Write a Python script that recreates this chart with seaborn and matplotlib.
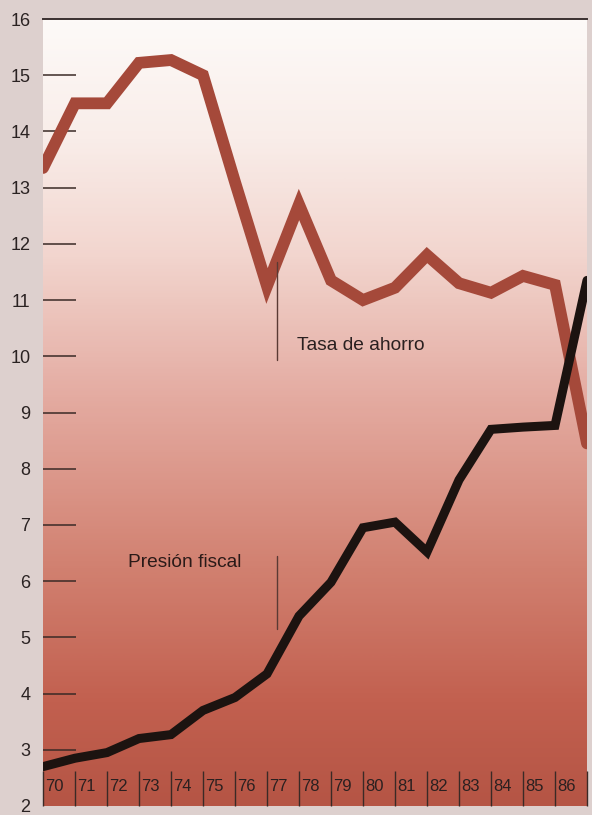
import numpy as np
import matplotlib
matplotlib.use("Agg")
import matplotlib.pyplot as plt
from matplotlib.colors import LinearSegmentedColormap
import seaborn as sns
import pandas as pd

# Series values, one per year (1970-1987)
years = list(range(70, 88))
tasa_ahorro = [13.35, 14.5, 14.5, 15.22, 15.27, 15.0, 13.1, 11.25, 12.7, 11.35,
               11.0, 11.22, 11.8, 11.3, 11.13, 11.43, 11.27, 8.45]
presion_fiscal = [2.7, 2.85, 2.95, 3.2, 3.27, 3.7, 3.93, 4.35, 5.38, 5.98,
                  6.95, 7.05, 6.52, 7.8, 8.7, 8.74, 8.77, 11.35]
year_labels = [str(y) for y in range(70, 87)]
y_ticks = list(range(2, 17))

sns.set_theme(style="white")
plt.rcParams["font.family"] = ["Liberation Sans", "DejaVu Sans"]

fig = plt.figure(figsize=(5.92, 8.15), dpi=100, facecolor="#ddd0ce")
ax = fig.add_axes([43 / 592, 9 / 815, 544 / 592, 787 / 815])
ax.set_xlim(70, 87)
ax.set_ylim(2, 16)

# vertical background gradient, light at the top to deep terracotta at the bottom
grad_cmap = LinearSegmentedColormap.from_list(
    "bg",
    [(0.0, "#fdfaf8"), (0.15, "#f9ede9"), (0.30, "#f2d5ce"), (0.48, "#e4aba1"),
     (0.69, "#d28272"), (0.87, "#c2604f"), (1.0, "#b55545")],
)
grad = np.linspace(0, 1, 400).reshape(-1, 1)
ax.imshow(grad, cmap=grad_cmap, aspect="auto", extent=(70, 87, 2, 16),
          origin="upper", zorder=0)
ax.set_xlim(70, 87)
ax.set_ylim(2, 16)

df = pd.DataFrame({"year": years, "tasa": tasa_ahorro, "presion": presion_fiscal})
sns.lineplot(data=df, x="year", y="tasa", ax=ax, color="#a5493a", linewidth=8.5,
             solid_joinstyle="miter", zorder=3)
sns.lineplot(data=df, x="year", y="presion", ax=ax, color="#1c1310", linewidth=6.5,
             solid_joinstyle="miter", zorder=4)

# y axis: inward tick strokes, labels on the grey margin
ax.set_yticks(y_ticks)
ax.set_yticklabels([str(v) for v in y_ticks], fontsize=13, color="#2a2222")
ax.tick_params(axis="y", direction="in", length=24, width=1.1, color="#3a2a26",
               pad=9, left=True)
for t in ax.yaxis.get_major_ticks():
    if t.get_loc() in (2, 16):
        t.tick1line.set_visible(False)

# x axis: year strokes inside the plot with labels to their right
ax.set_xticks(years)
ax.set_xticklabels([])
ax.tick_params(axis="x", direction="in", length=25, width=1.0, color="#3a2a26",
               bottom=True)
for y in year_labels:
    ax.text(int(y) + 0.06, 2.35, y, fontsize=12, color="#2a2020",
            ha="left", va="center", zorder=5)

ax.set_xlabel("")
ax.set_ylabel("")
for side in ("left", "right", "bottom"):
    ax.spines[side].set_visible(False)
ax.spines["top"].set_color("#3a3030")
ax.spines["top"].set_linewidth(1.4)

# series annotations
ax.plot([77.3, 77.3], [11.68, 9.93], color="#5a3a34", linewidth=1.0, zorder=5)
ax.text(77.95, 10.2, "Tasa de ahorro", fontsize=13.8, color="#2a2020",
        ha="left", va="center", zorder=5)
ax.plot([77.3, 77.3], [6.45, 5.15], color="#5a3a34", linewidth=1.0, zorder=5)
ax.text(76.2, 6.34, "Presión fiscal", fontsize=13.8, color="#2a1a18",
        ha="right", va="center", zorder=5)

fig.savefig("out.png", dpi=100, facecolor=fig.get_facecolor())
